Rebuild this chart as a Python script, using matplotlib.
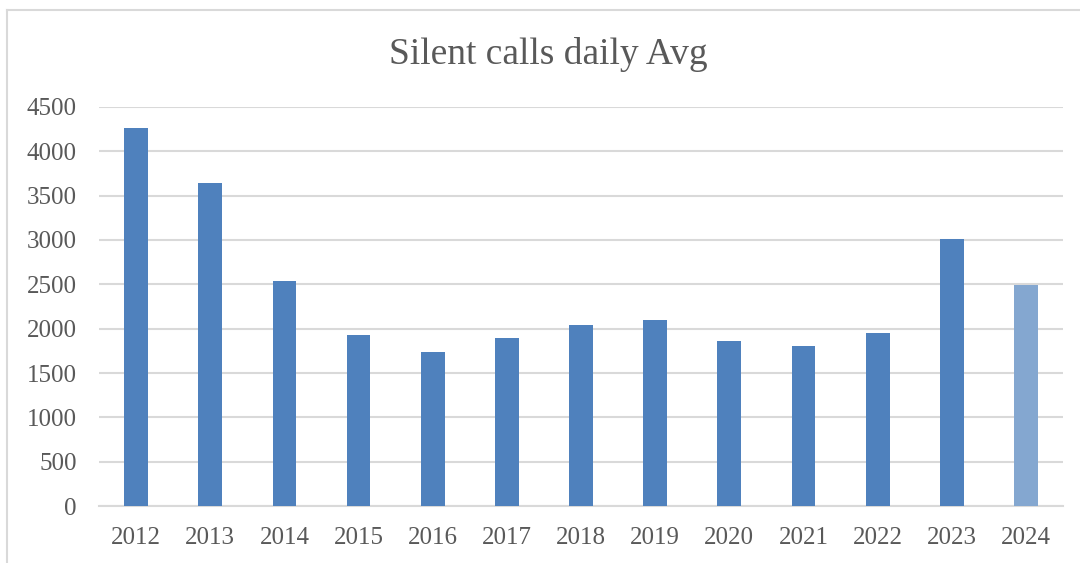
import matplotlib.pyplot as plt
from matplotlib.lines import Line2D

# data
years = ['2012', '2013', '2014', '2015', '2016', '2017', '2018',
         '2019', '2020', '2021', '2022', '2023', '2024']
avg_calls = [4260, 3640, 2540, 1930, 1735, 1895, 2040,
             2100, 1860, 1805, 1950, 3010, 2490]
yticks = [0, 500, 1000, 1500, 2000, 2500, 3000, 3500, 4000, 4500]

blue = '#4F81BD'
light_blue = '#84A7D0'
grid_col = '#D9D9D9'
text_col = '#595959'

plt.rcParams['font.family'] = ['Liberation Serif', 'DejaVu Serif']

fig = plt.figure(figsize=(10.8, 5.63), dpi=100)
ax = fig.add_axes([0.0917, 0.1012, 0.8926, 0.7088])

colors = [blue] * (len(years) - 1) + [light_blue]
x = range(len(years))
ax.bar(x, avg_calls, width=0.32, color=colors, zorder=3)

ax.set_xlim(-0.5, len(years) - 0.5)
ax.set_ylim(0, 4500)
ax.set_yticks(yticks)
ax.set_xticks(list(x))
ax.set_xticklabels(years)
ax.yaxis.grid(True, color=grid_col, linewidth=1.5, zorder=0)
ax.tick_params(length=0, labelsize=18, colors=text_col)
ax.tick_params(axis='y', pad=16)
ax.tick_params(axis='x', pad=15)
for s in ['top', 'right', 'left']:
    ax.spines[s].set_visible(False)
ax.spines['bottom'].set_color(grid_col)
ax.spines['bottom'].set_linewidth(1.5)

fig.text(0.508, 1 - 55/563, 'Silent calls daily Avg', ha='center', va='center',
         fontsize=27, color=text_col)

# chart frame (left and top edges visible)
fig.add_artist(Line2D([7/1080, 7/1080], [0, 1 - 10/563], color=grid_col,
                      linewidth=1.5, transform=fig.transFigure))
fig.add_artist(Line2D([7/1080, 1], [1 - 10/563, 1 - 10/563], color=grid_col,
                      linewidth=1.5, transform=fig.transFigure))

fig.savefig('out.png', dpi=100)
